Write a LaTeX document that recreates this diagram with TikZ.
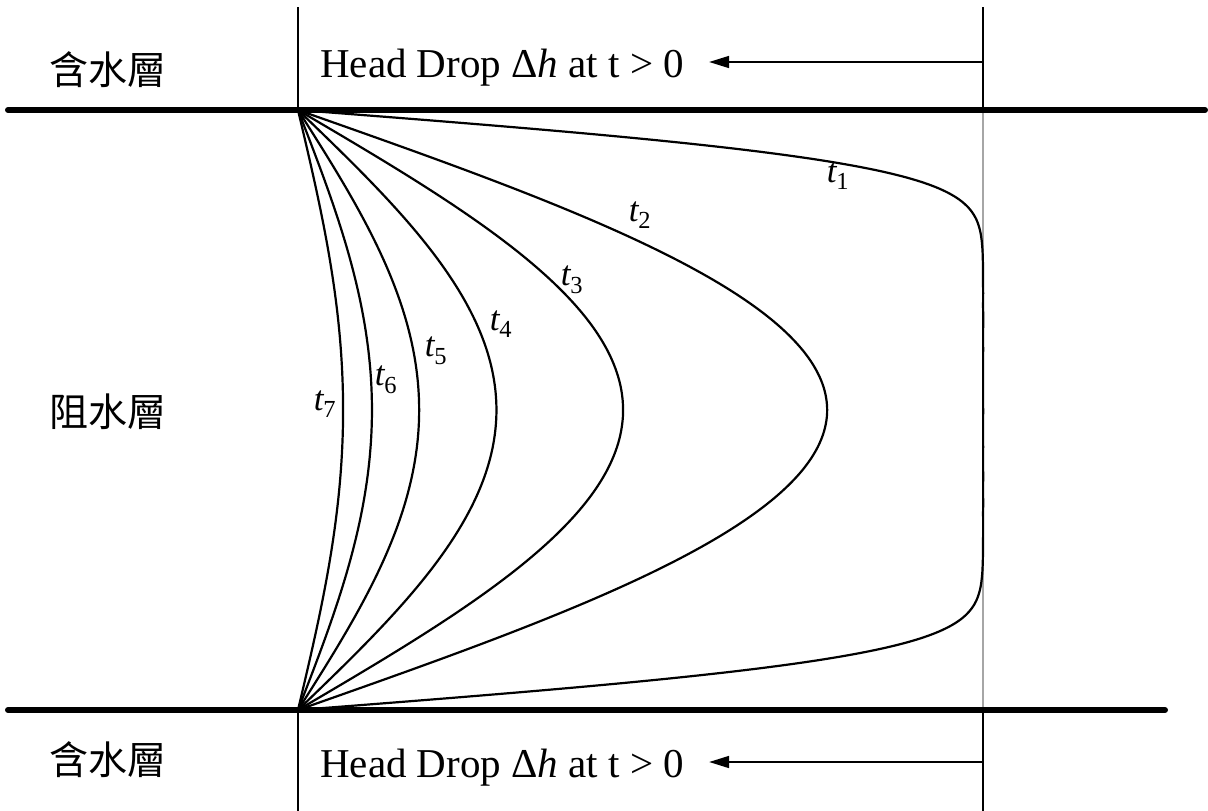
\documentclass[tikz,border=0pt]{standalone}
\usepackage{fontspec}
\setmainfont{Liberation Serif}
\newfontfamily\cjk{Noto Sans CJK TC}
\usetikzlibrary{arrows.meta}
\definecolor{Ink}{HTML}{000000}
\definecolor{GrayLine}{HTML}{A6A6A6}
\newcommand\tsub[1]{t\textsubscript{\upshape #1}}
\tikzset{
  layer/.style={line width=6pt, line cap=round, color=Ink},
  wall/.style={line width=2pt, color=Ink},
  profile/.style={line width=2.2pt, color=Ink},
  arr/.style={-{Triangle[length=20pt,width=12pt]}, line width=1.6pt, color=Ink},
  zone/.style={font=\fontsize{39}{44}\selectfont\cjk},
  drop/.style={anchor=base west, inner sep=0pt, font=\fontsize{41}{48}\selectfont},
  tlbl/.style={inner sep=0pt, font=\fontsize{35}{40}\selectfont\itshape},
  % head in the aquitard, series solution
  declare function={
    hterm(\n,\z,\t)=sin(\n*180*\z)/\n*exp(-\n*\n*9.8696*\t);
    prof(\z,\t)=1.27324*(hterm(1,\z,\t)+hterm(3,\z,\t)+hterm(5,\z,\t)
      +hterm(7,\z,\t)+hterm(9,\z,\t)+hterm(11,\z,\t)+hterm(13,\z,\t)
      +hterm(15,\z,\t)+hterm(17,\z,\t)+hterm(19,\z,\t)+hterm(21,\z,\t)
      +hterm(23,\z,\t)+hterm(25,\z,\t));
  }
}

\begin{document}
\begin{tikzpicture}[x=1pt, y=-1pt]
\useasboundingbox (0,0) rectangle (1208,811);

% right wall inside the aquitard
\draw[wall, GrayLine] (983,110) -- (983,710);

% profiles t1 ... t7
\foreach \k/\tau in {1/0.0025,2/0.05,3/0.10,4/0.15,5/0.20,6/0.25,7/0.30}
  \draw[profile] plot[domain=0:1, samples=161, smooth]
    ({298+685*prof(\x,\tau)}, {110+600*\x});

% aquifer boundaries
\draw[layer] (8,110) -- (1205,110);
\draw[layer] (8,710) -- (1165,710);

\draw[wall] (298,7) -- (298,110);
\draw[wall] (983,7) -- (983,110);
\draw[wall] (298,710) -- (298,811);
\draw[wall] (983,710) -- (983,811);

% layer names
\node[zone] (aqTop) at (108,70) {含水層};
\node[zone] (aqMid) at (108,412) {阻水層};
\node[zone] (aqBot) at (108,760) {含水層};

% head drop
\node[drop] (dropTop) at (320,77) {Head Drop Δ\textit{h} at t > 0};
\node[drop] (dropBot) at (320,777) {Head Drop Δ\textit{h} at t > 0};
\coordinate (rTop) at (983,62);
\coordinate (rBot) at (983,762);
\draw[arr, shorten >=25pt] (rTop) -- (rTop -| dropTop.east);
\draw[arr, shorten >=25pt] (rBot) -- (rBot -| dropBot.east);

% time labels
\foreach \k/\px/\py in {1/838/176,2/640/215,3/572/280,4/501/324,5/436/351,6/386/380,7/325/404}
  \node[tlbl] (t\k) at (\px,\py) {\tsub{\k}};

\end{tikzpicture}
\end{document}
